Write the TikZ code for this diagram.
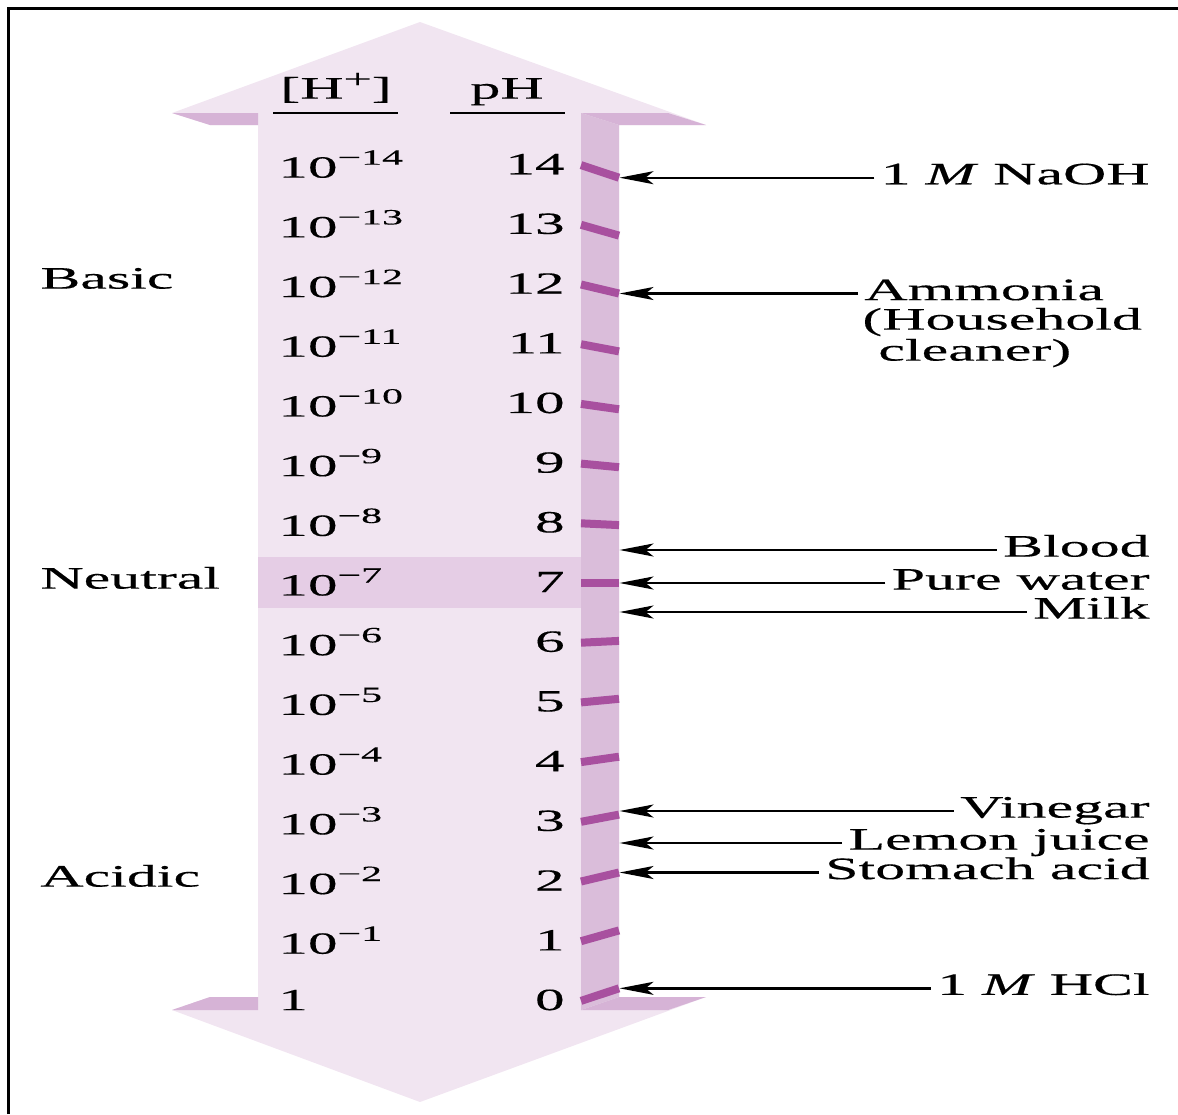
\documentclass[tikz,border=0pt]{standalone}
\usepackage{fontspec}
\setmainfont{Liberation Serif}[FakeStretch=1.92, FakeBold=0.35]
\usetikzlibrary{arrows.meta}

\definecolor{facelight}{HTML}{F1E5F1}
\definecolor{faceside}{HTML}{DABDDA}
\definecolor{faceband}{HTML}{D6B3D6}
\definecolor{neutralband}{HTML}{E5CDE5}
\definecolor{tickmark}{HTML}{A8509F}

% power of ten with a raised exponent
\newcommand{\tenpow}[1]{10\raisebox{0.42em}{\fontsize{10.9}{10.9}\selectfont #1}}

\begin{document}
\begin{tikzpicture}[x=0.5pt, y=-0.5pt,
  lab/.style={font=\fontsize{15.6}{17}\selectfont, inner xsep=3pt, inner ysep=0pt,
              text height=0.66em, text depth=0pt},
  num/.style={font=\fontsize{15.4}{17}\selectfont, inner sep=0pt},
  ptr/.style={line width=1.2pt, -{Stealth[length=17pt, width=6.5pt, inset=4pt]}},
  tickbar/.style={tickmark, line width=4pt},
  frameline/.style={line width=1.5pt}]

\useasboundingbox (0,0) rectangle (1178,1114);

% outer frame (top and left edges)
\draw[frameline] (8,1114) -- (8,8) -- (1178,8);

% double-headed block arrow: silhouette
\fill[facelight] (420,22) -- (172,113) -- (210,125) -- (258,125) -- (258,997)
  -- (210,997) -- (172,1010) -- (420,1102) -- (706,997) -- (619,997)
  -- (619,125) -- (706,125) -- cycle;
% wing undersides / topsides
\fill[faceband] (172,113) -- (258,113) -- (258,125) -- (210,125) -- cycle;
\fill[faceband] (172,1010) -- (258,1010) -- (258,997) -- (210,997) -- cycle;
\fill[faceband] (581,113) -- (668,113) -- (706,125) -- (619,125) -- cycle;
\fill[faceband] (581,1010) -- (668,1010) -- (706,997) -- (619,997) -- cycle;
% right side face of the shaft
\fill[faceside] (581,113) -- (619,125) -- (619,997) -- (581,1010) -- cycle;

% neutral band
\fill[neutralband] (258,557) rectangle (581,608);

% column headers
\node[lab] (hhead) at (336,92) {[H\raisebox{0.35em}{\fontsize{13}{13}\selectfont +}]};
\node[lab] (phhead) at (507,92) {pH};
\draw[line width=1pt] (273,113) -- (398,113);
\draw[line width=1pt] (450,113) -- (565,113);

% tick marks (front edge to receding edge), pH values and [H+] values
\foreach \n in {0,...,14}{
  \pgfmathsetmacro\yt{583-(\n-7)*59.7}
  \pgfmathsetmacro\yb{583-(\n-7)*57.9}
  \pgfmathsetmacro\yr{582-(\n-7)*59.7}
  \draw[tickbar] (581,\yt) -- (619,\yb);
  \coordinate (t\n) at (619.5,\yb);
  \node[num, anchor=east] (ph\n) at (565,\yr) {\n};
}
\foreach \n in {1,...,14}{
  \pgfmathsetmacro\yr{582-(\n-7)*59.7}
  \node[num, anchor=west] (h\n) at (278,\yr) {\tenpow{−\n}};
}
\node[num, anchor=west] (h0) at (278,1000) {1};

% region labels
\node[lab, anchor=west] (basic) at (34,282) {Basic};
\node[lab, anchor=west] (neutral) at (34,582) {Neutral};
\node[lab, anchor=west] (acidic) at (34,880) {Acidic};

% arrow targets between ticks
\coordinate (blood) at (619.5,550);
\coordinate (milk) at (619.5,612);
\coordinate (vin) at (619.5,811);
\coordinate (lemon) at (619.5,843);
\coordinate (rx) at (1156,0);
\coordinate (lx) at (858,0);

% substances
\node[lab, anchor=east] (naoh) at (t14 -| rx) {1 \textit{M} NaOH};
\node[lab, anchor=west] (amm1) at (t12 -| lx) {Ammonia};
\node[lab, anchor=west] (amm2) at (856,323) {(Household};
\node[lab, anchor=west] (amm3) at (872,354) {cleaner)};
\node[lab, anchor=east] (bloodl) at (blood -| rx) {Blood};
\node[lab, anchor=east] (water) at (t7 -| rx) {Pure water};
\node[lab, anchor=east] (milkl) at (milk -| rx) {Milk};
\node[lab, anchor=east] (vinegar) at (vin -| rx) {Vinegar};
\node[lab, anchor=east] (lemonl) at (lemon -| rx) {Lemon juice};
\node[lab, anchor=east] (stomach) at (t2 -| rx) {Stomach acid};
\node[lab, anchor=east] (hcl) at (t0 -| rx) {1 \textit{M} HCl};

\draw[ptr] (naoh) -- (t14);
\draw[ptr] (amm1) -- (t12);
\draw[ptr] (bloodl) -- (blood);
\draw[ptr] (water) -- (t7);
\draw[ptr] (milkl) -- (milk);
\draw[ptr] (vinegar) -- (vin);
\draw[ptr] (lemonl) -- (lemon);
\draw[ptr] (stomach) -- (t2);
\draw[ptr] (hcl) -- (t0);
\end{tikzpicture}
\end{document}
